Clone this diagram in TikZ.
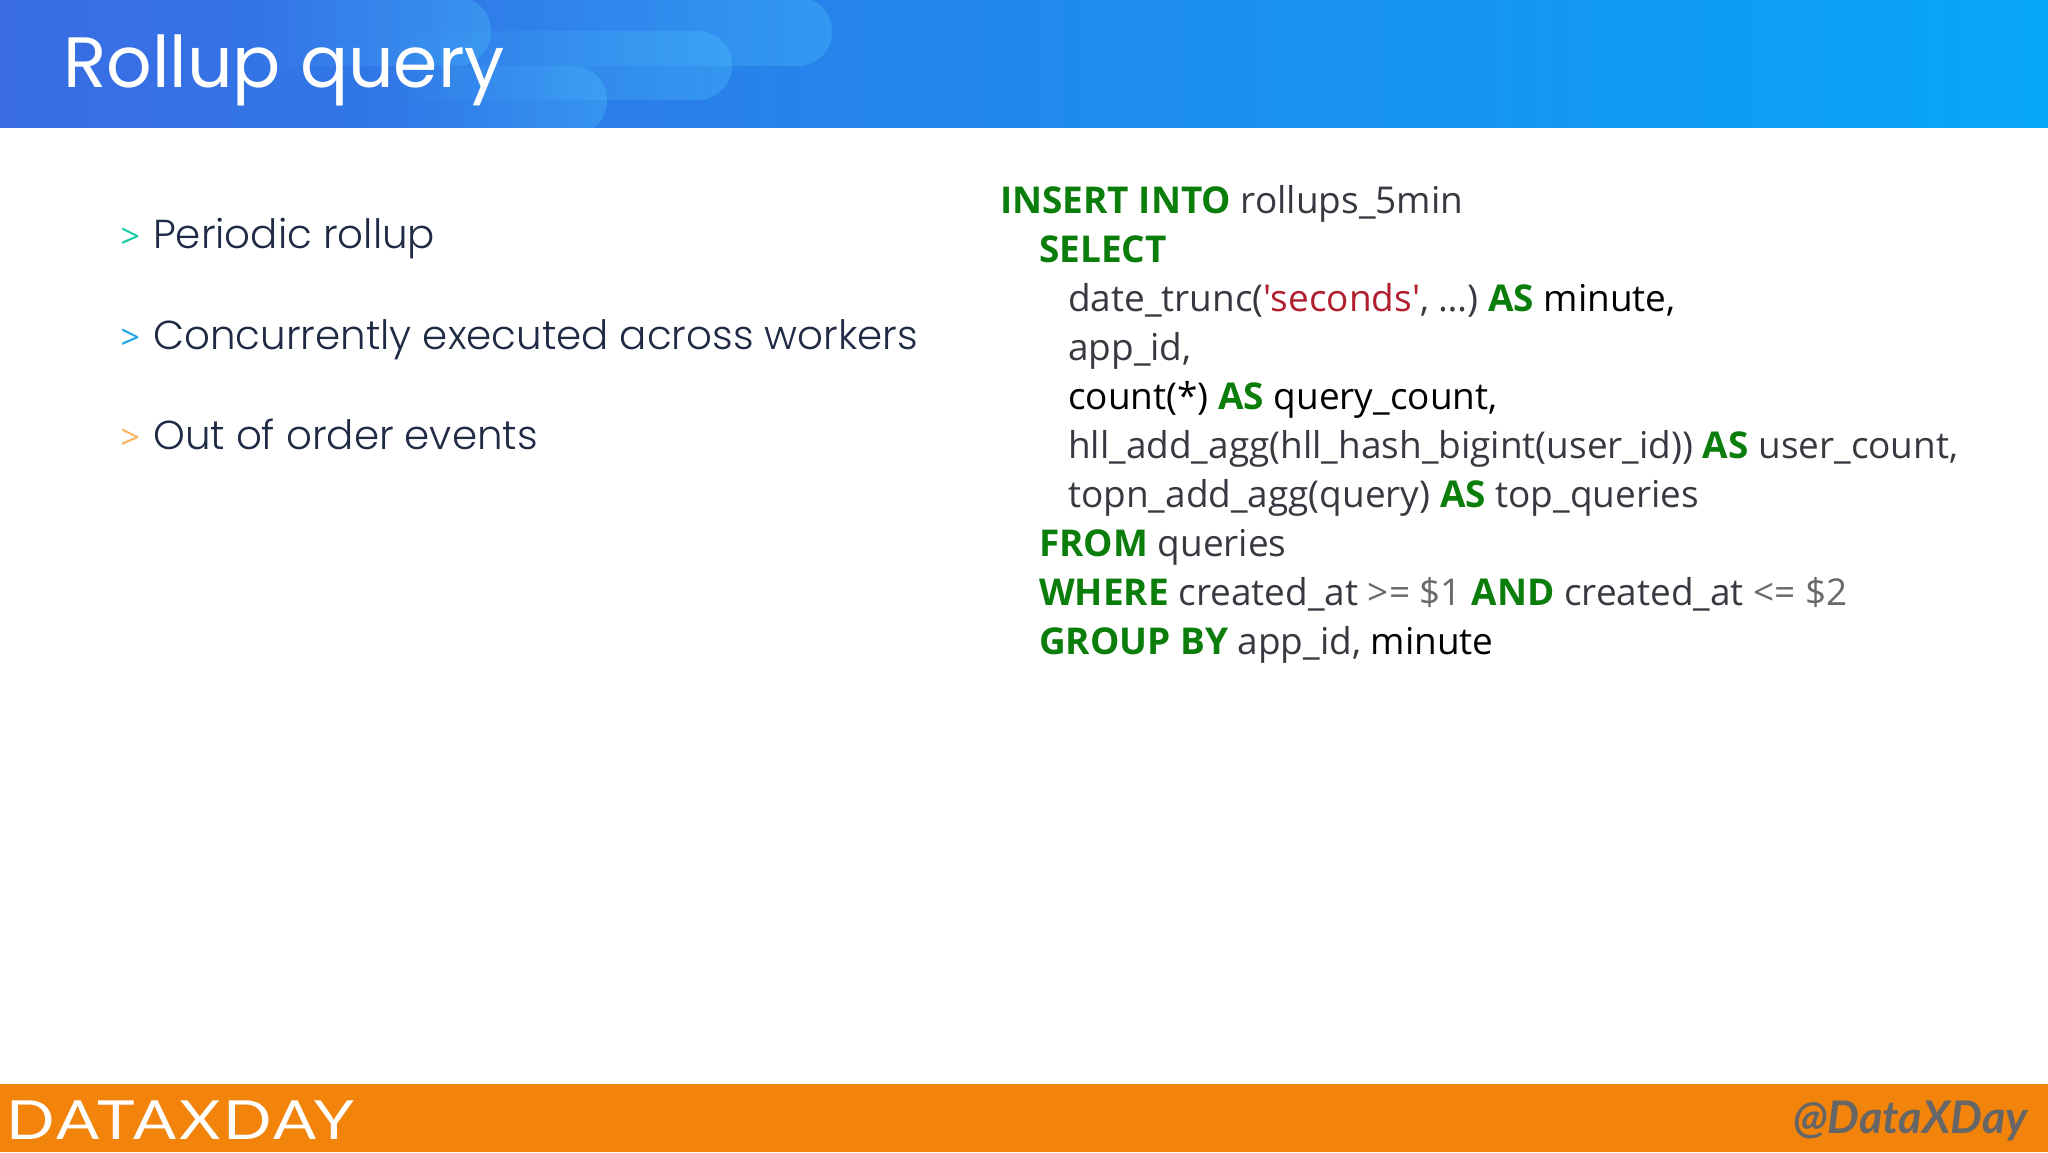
\documentclass[tikz,border=0pt]{standalone}
\usepackage{fontspec}
\usepackage{xcolor}
\usetikzlibrary{fadings}
\newfontfamily\slidefont{Poppins}[UprightFont=* Light]
\newfontfamily\titlefont{Poppins}
\newfontfamily\logofont{Lato}[FakeStretch=1.18,LetterSpace=5]
\newfontfamily\codefont{Open Sans}
\newfontfamily\handlefont{Lato}
\definecolor{headleft}{HTML}{3A6CE3}
\definecolor{headmid}{HTML}{2088EE}
\definecolor{headright}{HTML}{07A6F7}
\definecolor{pillblue}{HTML}{4CC0FF}
\definecolor{footorange}{HTML}{F2840B}
\definecolor{kwgreen}{HTML}{0B7D0B}
\definecolor{strred}{HTML}{B01E2E}
\definecolor{codegray}{HTML}{363A40}
\definecolor{opgray}{HTML}{6A6A6A}
\definecolor{bullettext}{HTML}{1F2A44}
\newcommand{\kw}[1]{\textbf{\textcolor{kwgreen}{#1}}}
\newcommand{\dk}[1]{\textcolor{black}{#1}}
\newcommand{\op}[1]{\textcolor{opgray}{#1}}
\tikzfading[name=pillfade, left color=transparent!100, right color=transparent!0]
\tikzset{
    pill/.style={fill=pillblue, fill opacity=0.35, path fading=pillfade, rounded corners=34pt},
    codeline/.style={anchor=base west, inner sep=0pt, text=codegray, font=\codefont\fontsize{36.95}{40}\selectfont},
    bulletline/.style={anchor=base west, inner sep=0pt, text=bullettext, font=\slidefont\fontsize{40.4}{44}\selectfont},
    bulletmark/.style={anchor=base west, inner sep=0pt, font=\codefont\fontsize{34}{38}\selectfont},
}
\begin{document}
\begin{tikzpicture}[x=1pt, y=1pt]
    \useasboundingbox (0,0) rectangle (2048,1152);
    \fill[white] (0,0) rectangle (2048,1152);

    % header band
    \shade[left color=headleft, middle color=headmid, right color=headright] (0,1024) rectangle (2048,1152);
    \begin{scope}
        \clip (0,1024) rectangle (2048,1152);
        \fill[pill] (240,1086) rectangle (491,1155);
        \fill[pill] (420,1086) rectangle (832,1155);
        \fill[pill] (380,1052) rectangle (732,1121);
        \fill[pill] (380,1017) rectangle (607,1086);
    \end{scope}
    \node[anchor=base west, inner sep=0pt, text=white, font=\titlefont\fontsize{71.3}{76}\selectfont] (title) at (63,1064) {Rollup query};

    % bullets on the left
    \foreach \i/\col/\y/\txt in {1/18C9A6/903/Periodic rollup,
                                 2/1FA3E8/802/Concurrently executed across workers,
                                 3/F7B45C/702/Out of order events} {
        \definecolor{markcol}{HTML}{\col}
        \node[bulletmark, text=markcol] (mark\i) at (120.5,\y) {>};
        \node[bulletline] (item\i) at (153,\y) {\txt};
    }

    % the query
    \node[codeline] (line1) at (1000,938) {\kw{INSERT INTO} rollups\_5min};
    \node[codeline] (line2) at (1039,889) {\kw{SELECT}};
    \node[codeline] (line3) at (1068,840) {date\_trunc(\textcolor{strred}{'seconds'}, …) \kw{AS} \dk{minute,}};
    \node[codeline] (line4) at (1068,791) {app\_id,};
    \node[codeline] (line5) at (1068,742) {\dk{count(*)} \kw{AS} \dk{query\_count,}};
    \node[codeline] (line6) at (1068,693) {hll\_add\_agg(hll\_hash\_bigint(user\_id)) \kw{AS} user\_count,};
    \node[codeline] (line7) at (1068,644) {topn\_add\_agg(query) \kw{AS} top\_queries};
    \node[codeline] (line8) at (1039,595) {\kw{FROM} queries};
    \node[codeline] (line9) at (1039,546) {\kw{WHERE} created\_at \op{>= \$1} \kw{AND} created\_at \op{<= \$2}};
    \node[codeline] (line10) at (1039,497) {\kw{GROUP BY} app\_id, \dk{minute}};

    % footer band
    \fill[footorange] (0,0) rectangle (2048,68);
    \node[anchor=base west, inner sep=0pt, text=white, font=\logofont\fontsize{54}{60}\selectfont] (logo) at (6,13) {DATAXDAY};
    \node[anchor=base east, inner sep=0pt, text=black!60, font=\handlefont\bfseries\itshape\fontsize{45}{48}\selectfont] (handle) at (2028,19) {@DataXDay};
\end{tikzpicture}
\end{document}
